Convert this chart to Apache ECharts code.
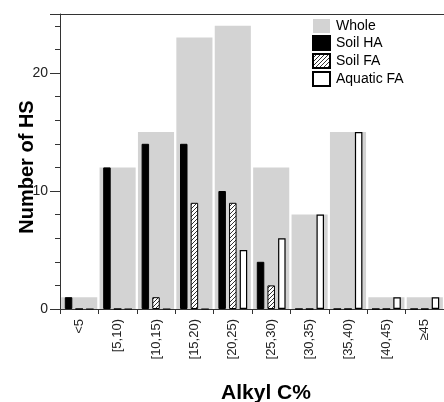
<!DOCTYPE html>
<html>
<head>
<meta charset="utf-8">
<script src="https://cdn.jsdelivr.net/npm/echarts@6/dist/echarts.min.js"></script>
<style>html,body{margin:0;padding:0;background:#fff;}#c{width:444px;height:402px;}</style>
</head>
<body>
<div id="c"></div>
<script>
var categories = ['<5', '[5,10)', '[10,15)', '[15,20)', '[20,25)', '[25,30)', '[30,35)', '[35,40)', '[40,45)', '≥45'];
var whole     = [1, 12, 15, 23, 24, 12, 8, 15, 1, 1];
var soilHA    = [1, 12, 14, 14, 10, 4, 0, 0, 0, 0];
var soilFA    = [0, 0, 1, 9, 9, 2, 0, 0, 0, 0];
var aquaticFA = [0, 0, 0, 0, 5, 6, 8, 15, 1, 1];
var yTicks = [0, 10, 20];

var FONT = '"Liberation Sans", Arial, sans-serif';

// hatch pattern
var pc = document.createElement('canvas');
pc.width = 4; pc.height = 4;
var g = pc.getContext('2d');
g.fillStyle = '#fff'; g.fillRect(0, 0, 4, 4);
g.strokeStyle = '#333'; g.lineWidth = 1;
g.beginPath();
g.moveTo(0, 4); g.lineTo(4, 0);
g.moveTo(-1, 1); g.lineTo(1, -1);
g.moveTo(3, 5); g.lineTo(5, 3);
g.stroke();
var hatch = { image: pc, repeat: 'repeat' };

var chart = echarts.init(document.getElementById('c'), null, { renderer: 'canvas' });
chart.setOption({
  animation: false,
  backgroundColor: '#fff',
  grid: { left: 60, top: 14, right: -9, bottom: 93, containLabel: false },
  legend: {
    orient: 'vertical',
    left: 307, top: 14,
    itemWidth: 17, itemHeight: 14, itemGap: 2,
    textStyle: { fontFamily: FONT, fontSize: 14, lineHeight: 14, color: '#000', padding: [0, 0, 0, 1] },
    icon: 'rect',
    data: ['Whole', 'Soil HA', 'Soil FA', 'Aquatic FA']
  },
  xAxis: [{
    type: 'category', data: categories, position: 'bottom',
    axisLine: { show: true, lineStyle: { color: '#333', width: 1 } },
    axisTick: { show: true, length: 5, lineStyle: { color: '#333' } },
    axisLabel: { rotate: 90, fontFamily: FONT, fontSize: 13, color: '#222', margin: 10 },
    splitLine: { show: false }
  }, {
    type: 'category', data: categories, position: 'top',
    axisLine: { show: true, lineStyle: { color: '#333', width: 1 } },
    axisTick: { show: false }, axisLabel: { show: false }, splitLine: { show: false }
  }],
  yAxis: {
    type: 'value', min: 0, max: 25, interval: 10,
    axisLine: { show: true, lineStyle: { color: '#333', width: 1 } },
    axisTick: { show: true, length: 10, lineStyle: { color: '#333' } },
    minorTick: { show: true, splitNumber: 5, length: 5, lineStyle: { color: '#333' } },
    axisLabel: {
      fontFamily: FONT, fontSize: 14, color: '#222', margin: 12,
      formatter: function (v) { return yTicks.indexOf(v) >= 0 ? String(v) : ''; }
    },
    splitLine: { show: false }
  },
  graphic: [
    { type: 'text', x: 27, y: 167, rotation: Math.PI / 2,
      style: { text: 'Number of HS', font: 'bold 20px ' + FONT, fill: '#000', align: 'center', verticalAlign: 'middle' } },
    { type: 'text', x: 266, y: 393,
      style: { text: 'Alkyl C%', font: 'bold 21px ' + FONT, fill: '#000', align: 'center', verticalAlign: 'middle' } }
  ],
  series: [
    { name: 'Whole', type: 'bar', xAxisIndex: 0, data: whole, barWidth: '94%',
      itemStyle: { color: '#d3d3d3' }, z: 1 },
    { name: 'Soil HA', type: 'bar', xAxisIndex: 1, data: soilHA, barWidth: 7.5, barGap: '42%',
      itemStyle: { color: '#000', borderColor: '#000', borderWidth: 1 }, z: 3 },
    { name: 'Soil FA', type: 'bar', xAxisIndex: 1, data: soilFA, barWidth: 7.5, barGap: '42%',
      itemStyle: { color: hatch, borderColor: '#000', borderWidth: 1 }, z: 3 },
    { name: 'Aquatic FA', type: 'bar', xAxisIndex: 1, data: aquaticFA, barWidth: 7.5, barGap: '42%',
      itemStyle: { color: '#fff', borderColor: '#000', borderWidth: 1.2 }, z: 3 }
  ]
});
</script>
</body>
</html>
